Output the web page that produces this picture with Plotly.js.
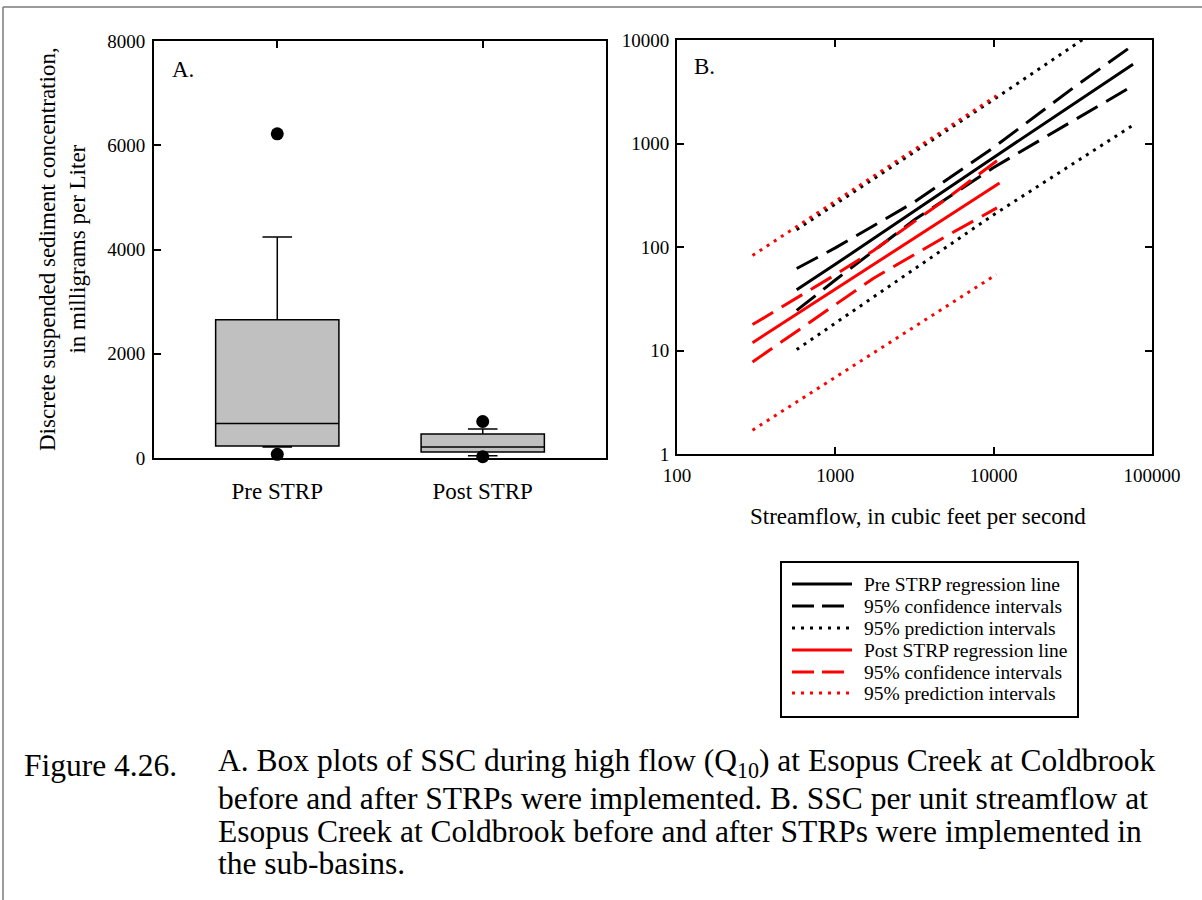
<!DOCTYPE html>
<html>
<head>
<meta charset="utf-8">
<script src="https://cdn.plot.ly/plotly-3.0.1.min.js"></script>
<style>
  html, body { margin: 0; padding: 0; background: #ffffff; }
  #chart { width: 1202px; height: 900px; }
</style>
</head>
<body>
<div id="chart"></div>
<script>
// ---------- Panel A: box plot statistics (mg/L) ----------
const boxCategories   = ['Pre STRP', 'Post STRP'];
const boxLowerWhisker = [210, 45];
const boxQ1           = [230, 115];
const boxMedian       = [660, 210];
const boxQ3           = [2650, 460];
const boxUpperWhisker = [4240, 555];
const outlierCategories = ['Pre STRP', 'Pre STRP', 'Post STRP', 'Post STRP'];
const outlierValues     = [6220, 70, 700, 25];

// ---------- Panel B: regression lines (streamflow cfs vs SSC mg/L) ----------
const preRegX   = [570, 1000, 10000, 75900];
const preRegY   = [38.6, 68, 734, 5825];
const preCiX    = [570, 1000, 3160, 10000, 32000, 72000];
const preCiUpY  = [62, 98, 272, 916, 3475, 8400];
const preCiLoY  = [24.4, 48, 183, 587, 1670, 3450];
const prePiX    = [570, 10000, 75900];
const prePiUpY  = [147, 2660, 21500];
const prePiLoY  = [10.2, 205, 1503];

const postRegX  = [300, 1000, 10900];
const postRegY  = [11.9, 39, 415];
const postCiX   = [300, 1000, 1745, 5000, 10490];
const postCiUpY = [17.8, 54, 92.5, 290, 682];
const postCiLoY = [7.76, 28, 50, 127, 239];
const postPiX   = [300, 10400];
const postPiUpY = [82.8, 2885];
const postPiLoY = [1.70, 54.3];

const xTickVals  = [100, 1000, 10000, 100000];
const xTickText  = ['100', '1000', '10000', '100000'];
const yTickValsB = [1, 10, 100, 1000, 10000];
const yTickTextB = ['1', '10', '100', '1000', '10000'];
const yTickValsA = [0, 2000, 4000, 6000, 8000];

const legendNames  = ['Pre STRP regression line', '95% confidence intervals', '95% prediction intervals',
                      'Post STRP regression line', '95% confidence intervals', '95% prediction intervals'];
const captionLines = [
  'A. Box plots of SSC during high flow (Q<sub>10</sub>) at Esopus Creek at Coldbrook',
  'before and after STRPs were implemented. B. SSC per unit streamflow at',
  'Esopus Creek at Coldbrook before and after STRPs were implemented in',
  'the sub-basins.'
];

// ---------- styling ----------
const SERIF = 'Liberation Serif, Times New Roman, serif';
const W = 1202, H = 900;
const px = v => v / W;
const py = v => 1 - v / H;
const DASH = '24px,10px';
const DOT = '3px,5.5px';
const RED = '#ff0000';
const LW = 3;
const legendColors = ['#000000', '#000000', '#000000', RED, RED, RED];
const legendDashes = ['solid', '22px,8px', '3px,6px', 'solid', '22px,8px', '3px,6px'];

const traces = [];

traces.push({
  type: 'box', xaxis: 'x', yaxis: 'y',
  x: boxCategories,
  q1: boxQ1, median: boxMedian, q3: boxQ3,
  lowerfence: boxLowerWhisker, upperfence: boxUpperWhisker,
  boxpoints: false, width: 0.6, whiskerwidth: 0.24,
  fillcolor: '#c0c0c0', line: { color: '#000000', width: 1.5 },
  showlegend: false, hoverinfo: 'skip'
});
traces.push({
  type: 'scatter', mode: 'markers', xaxis: 'x', yaxis: 'y',
  x: outlierCategories, y: outlierValues,
  marker: { color: '#000000', size: 13 },
  showlegend: false, hoverinfo: 'skip', cliponaxis: false
});

function line(x, y, color, dash, name) {
  return {
    type: 'scatter', mode: 'lines', xaxis: 'x2', yaxis: 'y2',
    x: x, y: y, name: name, showlegend: false,
    line: { color: color, width: LW, dash: dash }, hoverinfo: 'skip'
  };
}
traces.push(line(preRegX, preRegY, '#000000', 'solid', legendNames[0]));
traces.push(line(preCiX, preCiUpY, '#000000', DASH, legendNames[1]));
traces.push(line(preCiX, preCiLoY, '#000000', DASH, legendNames[1]));
traces.push(line(prePiX, prePiUpY, '#000000', DOT, legendNames[2]));
traces.push(line(prePiX, prePiLoY, '#000000', DOT, legendNames[2]));
traces.push(line(postRegX, postRegY, RED, 'solid', legendNames[3]));
traces.push(line(postCiX, postCiUpY, RED, DASH, legendNames[4]));
traces.push(line(postCiX, postCiLoY, RED, DASH, legendNames[4]));
traces.push(line(postPiX, postPiUpY, RED, DOT, legendNames[5]));
traces.push(line(postPiX, postPiLoY, RED, DOT, legendNames[5]));

const axisCommon = {
  showline: true, linecolor: '#000000', linewidth: 2,
  ticks: 'inside', ticklen: 7, tickwidth: 2, tickcolor: '#000000',
  showgrid: false, zeroline: false, fixedrange: true
};

const shapes = [
  { type: 'line', xref: 'paper', yref: 'paper', x0: px(3), x1: px(3), y0: 0, y1: py(7),
    line: { color: '#7a7a7a', width: 1.5 } },
  { type: 'line', xref: 'paper', yref: 'paper', x0: px(3), x1: 1, y0: py(7), y1: py(7),
    line: { color: '#7a7a7a', width: 1.5 } },
  { type: 'rect', xref: 'paper', yref: 'paper', x0: px(781), x1: px(1078), y0: py(717), y1: py(562),
    line: { color: '#000000', width: 2 }, fillcolor: 'rgba(0,0,0,0)' }
];
const annotations = [
  { text: 'A.', xref: 'paper', yref: 'paper', x: px(170), y: py(70), xanchor: 'left', yanchor: 'middle',
    showarrow: false, font: { family: SERIF, size: 23 } },
  { text: 'B.', xref: 'paper', yref: 'paper', x: px(692), y: py(66), xanchor: 'left', yanchor: 'middle',
    showarrow: false, font: { family: SERIF, size: 23 } },
  { text: 'Discrete suspended sediment concentration,<br>in milligrams per Liter',
    xref: 'paper', yref: 'paper', x: px(63), y: py(249), xanchor: 'center', yanchor: 'middle',
    textangle: -90, showarrow: false, font: { family: SERIF, size: 23 } },
  { text: 'Streamflow, in cubic feet per second', xref: 'paper', yref: 'paper',
    x: px(918), y: py(516), xanchor: 'center', yanchor: 'middle',
    showarrow: false, font: { family: SERIF, size: 23 } },
  { text: 'Figure 4.26.', xref: 'paper', yref: 'paper', x: px(22), y: py(765),
    xanchor: 'left', yanchor: 'middle', showarrow: false, font: { family: SERIF, size: 31.5 } }
];
const captionY = [763, 798, 831, 863];
captionLines.forEach((t, i) => annotations.push({
  text: t, xref: 'paper', yref: 'paper', x: px(216), y: py(captionY[i]),
  xanchor: 'left', yanchor: 'middle', showarrow: false, font: { family: SERIF, size: 31.5 }
}));
const legendRowY = [584, 606, 628, 650, 672, 693];
legendNames.forEach((name, i) => {
  shapes.push({ type: 'line', xref: 'paper', yref: 'paper',
    x0: px(792), x1: px(852), y0: py(legendRowY[i]), y1: py(legendRowY[i]),
    line: { color: legendColors[i], width: LW, dash: legendDashes[i] } });
  annotations.push({ text: name, xref: 'paper', yref: 'paper', x: px(862), y: py(legendRowY[i]),
    xanchor: 'left', yanchor: 'middle', showarrow: false, font: { family: SERIF, size: 19.5 } });
});

const layout = {
  width: W, height: H,
  margin: { l: 0, r: 0, t: 0, b: 0 },
  paper_bgcolor: '#ffffff', plot_bgcolor: '#ffffff',
  font: { family: SERIF, color: '#000000', size: 19 },
  showlegend: false,
  xaxis: Object.assign({}, axisCommon, {
    domain: [px(154), px(606)], anchor: 'y',
    type: 'category', range: [-0.6, 1.6], mirror: 'ticks',
    tickfont: { family: SERIF, size: 23 }, ticklabelstandoff: 11
  }),
  yaxis: Object.assign({}, axisCommon, {
    domain: [py(458), py(41)], anchor: 'x',
    range: [0, 8000], mirror: true,
    tickvals: yTickValsA, ticktext: yTickValsA.map(String),
    tickfont: { family: SERIF, size: 19 }, ticklabelstandoff: 3
  }),
  xaxis2: Object.assign({}, axisCommon, {
    domain: [px(677), px(1152)], anchor: 'y2',
    type: 'log', range: [2, 5], mirror: 'ticks',
    tickvals: xTickVals, ticktext: xTickText,
    tickfont: { family: SERIF, size: 19 }, ticklabelstandoff: 3
  }),
  yaxis2: Object.assign({}, axisCommon, {
    domain: [py(454), py(40)], anchor: 'x2',
    type: 'log', range: [0, 4], mirror: 'ticks',
    tickvals: yTickValsB, ticktext: yTickTextB,
    tickfont: { family: SERIF, size: 19 }, ticklabelstandoff: 2
  }),
  shapes: shapes,
  annotations: annotations
};

Plotly.newPlot('chart', traces, layout, { staticPlot: true, displayModeBar: false });
</script>
</body>
</html>
